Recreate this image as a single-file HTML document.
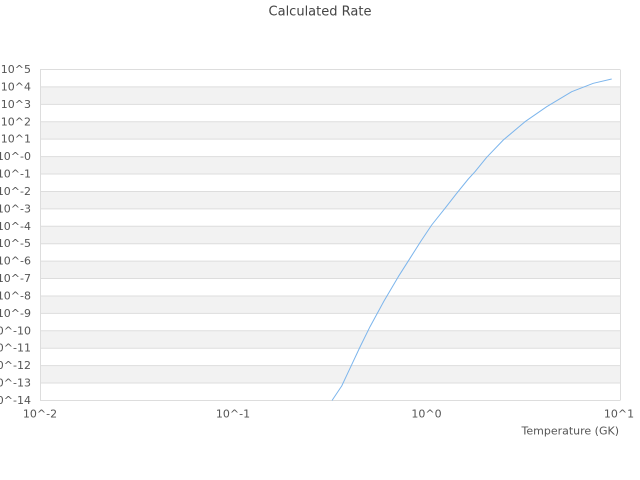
<!DOCTYPE html>
<html>
<head>
<meta charset="utf-8">
<style>
html,body{margin:0;padding:0;background:#fff;}
svg{display:block;font-family:"DejaVu Sans","Liberation Sans",sans-serif;}
</style>
</head>
<body>
<svg width="640" height="480" viewBox="0 0 640 480" xmlns="http://www.w3.org/2000/svg">
<rect x="0" y="0" width="640" height="480" fill="#fff"/>
<text x="320" y="12" font-size="13" fill="#444" text-anchor="middle" dominant-baseline="central">Calculated Rate</text>
<g id="bands">
<rect x="40" y="86.92" width="580" height="17.42" fill="#f2f2f2"/>
<rect x="40" y="121.76" width="580" height="17.42" fill="#f2f2f2"/>
<rect x="40" y="156.60" width="580" height="17.42" fill="#f2f2f2"/>
<rect x="40" y="191.44" width="580" height="17.42" fill="#f2f2f2"/>
<rect x="40" y="226.28" width="580" height="17.42" fill="#f2f2f2"/>
<rect x="40" y="261.12" width="580" height="17.42" fill="#f2f2f2"/>
<rect x="40" y="295.96" width="580" height="17.42" fill="#f2f2f2"/>
<rect x="40" y="330.80" width="580" height="17.42" fill="#f2f2f2"/>
<rect x="40" y="365.64" width="580" height="17.42" fill="#f2f2f2"/>
</g>
<g stroke="#dddddd" stroke-width="1">
<line x1="40" x2="620" y1="69.5" y2="69.5"/>
<line x1="40" x2="620" y1="86.92" y2="86.92"/>
<line x1="40" x2="620" y1="104.34" y2="104.34"/>
<line x1="40" x2="620" y1="121.76" y2="121.76"/>
<line x1="40" x2="620" y1="139.18" y2="139.18"/>
<line x1="40" x2="620" y1="156.60" y2="156.60"/>
<line x1="40" x2="620" y1="174.02" y2="174.02"/>
<line x1="40" x2="620" y1="191.44" y2="191.44"/>
<line x1="40" x2="620" y1="208.86" y2="208.86"/>
<line x1="40" x2="620" y1="226.28" y2="226.28"/>
<line x1="40" x2="620" y1="243.70" y2="243.70"/>
<line x1="40" x2="620" y1="261.12" y2="261.12"/>
<line x1="40" x2="620" y1="278.54" y2="278.54"/>
<line x1="40" x2="620" y1="295.96" y2="295.96"/>
<line x1="40" x2="620" y1="313.38" y2="313.38"/>
<line x1="40" x2="620" y1="330.80" y2="330.80"/>
<line x1="40" x2="620" y1="348.22" y2="348.22"/>
<line x1="40" x2="620" y1="365.64" y2="365.64"/>
<line x1="40" x2="620" y1="383.06" y2="383.06"/>
<line x1="40" x2="620" y1="400.5" y2="400.5"/>
<line x1="40.5" x2="40.5" y1="69.5" y2="400.5"/>
<line x1="620.5" x2="620.5" y1="69.5" y2="400.5"/>
</g>
<g font-size="11" fill="#555" text-anchor="end" dominant-baseline="central">
<text x="31" y="69.5">10^5</text>
<text x="31" y="86.92">10^4</text>
<text x="31" y="104.34">10^3</text>
<text x="31" y="121.76">10^2</text>
<text x="31" y="139.18">10^1</text>
<text x="31" y="156.60">10^-0</text>
<text x="31" y="174.02">10^-1</text>
<text x="31" y="191.44">10^-2</text>
<text x="31" y="208.86">10^-3</text>
<text x="31" y="226.28">10^-4</text>
<text x="31" y="243.70">10^-5</text>
<text x="31" y="261.12">10^-6</text>
<text x="31" y="278.54">10^-7</text>
<text x="31" y="295.96">10^-8</text>
<text x="31" y="313.38">10^-9</text>
<text x="31" y="330.80">10^-10</text>
<text x="31" y="348.22">10^-11</text>
<text x="31" y="365.64">10^-12</text>
<text x="31" y="383.06">10^-13</text>
<text x="31" y="400.5">10^-14</text>
</g>
<g font-size="11" fill="#555" text-anchor="middle" dominant-baseline="central">
<text x="40" y="414">10^-2</text>
<text x="233" y="414">10^-1</text>
<text x="426.5" y="414">10^0</text>
<text x="619" y="414">10^1</text>
</g>
<text x="619" y="431" font-size="11" fill="#555" text-anchor="end" dominant-baseline="central">Temperature (GK)</text>
<polyline fill="none" stroke="#7cb5ec" stroke-width="1" stroke-linejoin="round"
points="332,400.5 341.7,386 350,368.3 360,347 370,326.7 384,301 398.3,276.7 410,258.3 421,241 431.7,225 445,208.3 456.7,193.3 468.3,179 475,171.7 486.7,157.3 503.3,140 525,121.7 546.7,106.7 571.7,91.7 593.3,83.3 611.7,79"/>
</svg>
</body>
</html>
